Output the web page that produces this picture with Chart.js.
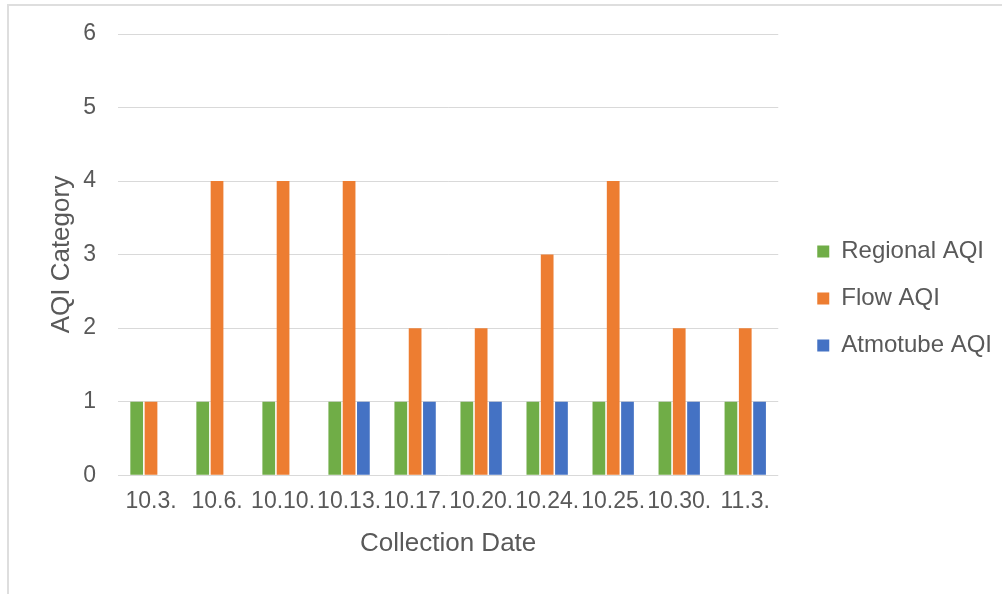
<!DOCTYPE html>
<html>
<head>
<meta charset="utf-8">
<title>AQI Category by Collection Date</title>
<script src="https://cdn.jsdelivr.net/npm/chart.js@4/dist/chart.umd.min.js"></script>
<style>
  html, body { margin: 0; padding: 0; background: #ffffff; }
  body { width: 1002px; height: 594px; position: relative; overflow: hidden; }
  #frame {
    position: absolute; left: 7px; top: 4px; right: 0; bottom: 0;
    border-left: 2px solid #dedede; border-top: 2px solid #dedede;
  }
  #chart { position: absolute; left: 0; top: 0; }
</style>
</head>
<body>
<div id="frame"></div>
<canvas id="chart" width="1002" height="594"></canvas>
<script>
// Collection dates (x categories)
const dates = ['10.3.', '10.6.', '10.10.', '10.13.', '10.17.', '10.20.', '10.24.', '10.25.', '10.30.', '11.3.'];

// AQI category per source
const regionalAQI = [1, 1, 1, 1, 1, 1, 1, 1, 1, 1];
const flowAQI     = [1, 4, 4, 4, 2, 2, 3, 4, 2, 2];
const atmotubeAQI = [null, null, null, 1, 1, 1, 1, 1, 1, 1];

// Y axis ticks
const yTicks = [0, 1, 2, 3, 4, 5, 6];

const textColor = '#595959';
const fontFamily = '"Liberation Sans", Arial, Helvetica, sans-serif';

new Chart(document.getElementById('chart'), {
  type: 'bar',
  data: {
    labels: dates,
    datasets: [
      { label: 'Regional AQI', data: regionalAQI, backgroundColor: '#70AD47', xAxisID: 'x', yAxisID: 'y' },
      { label: 'Flow AQI', data: flowAQI, backgroundColor: '#ED7D31', xAxisID: 'x', yAxisID: 'y' },
      { label: 'Atmotube AQI', data: atmotubeAQI, backgroundColor: '#4472C4', xAxisID: 'x', yAxisID: 'y' }
    ]
  },
  options: {
    responsive: false,
    animation: false,
    devicePixelRatio: 1,
    categoryPercentage: 0.65,
    barPercentage: 0.89,
    layout: { padding: { left: 40, top: 34, right: 0, bottom: 31 } },
    plugins: {
      tooltip: { enabled: false },
      legend: {
        position: 'right',
        maxWidth: 300,
        labels: {
          boxWidth: 12,
          boxHeight: 12,
          padding: 23,
          color: textColor,
          font: { family: fontFamily, size: 24 }
        }
      }
    },
    scales: {
      x: {
        type: 'category',
        position: 'bottom',
        grid: { display: false },
        border: { display: false },
        ticks: {
          color: textColor,
          font: { family: fontFamily, size: 23 },
          padding: 5,
          autoSkip: false,
          maxRotation: 0,
          minRotation: 0
        },
        title: {
          display: true,
          text: 'Collection Date',
          color: textColor,
          font: { family: fontFamily, size: 26 },
          padding: { top: 7, bottom: 4 }
        }
      },
      y: {
        type: 'linear',
        position: 'left',
        min: yTicks[0],
        max: yTicks[yTicks.length - 1],
        afterBuildTicks: (scale) => { scale.ticks = yTicks.map(v => ({ value: v })); },
        grid: { color: '#d9d9d9', lineWidth: 1, drawTicks: true, tickLength: 22, tickColor: 'rgba(0,0,0,0)' },
        border: { display: false },
        ticks: {
          color: textColor,
          font: { family: fontFamily, size: 23 },
          padding: 0
        },
        title: {
          display: true,
          text: 'AQI Category',
          color: textColor,
          font: { family: fontFamily, size: 26 },
          padding: { top: 6, bottom: 6 }
        }
      },
      // empty spacer between the plot and the legend
      gap: {
        type: 'linear',
        position: 'right',
        display: true,
        grid: { display: false },
        border: { display: false },
        ticks: { display: false },
        afterFit: (scale) => { scale.width = 16; }
      }
    }
  }
});
</script>
</body>
</html>
